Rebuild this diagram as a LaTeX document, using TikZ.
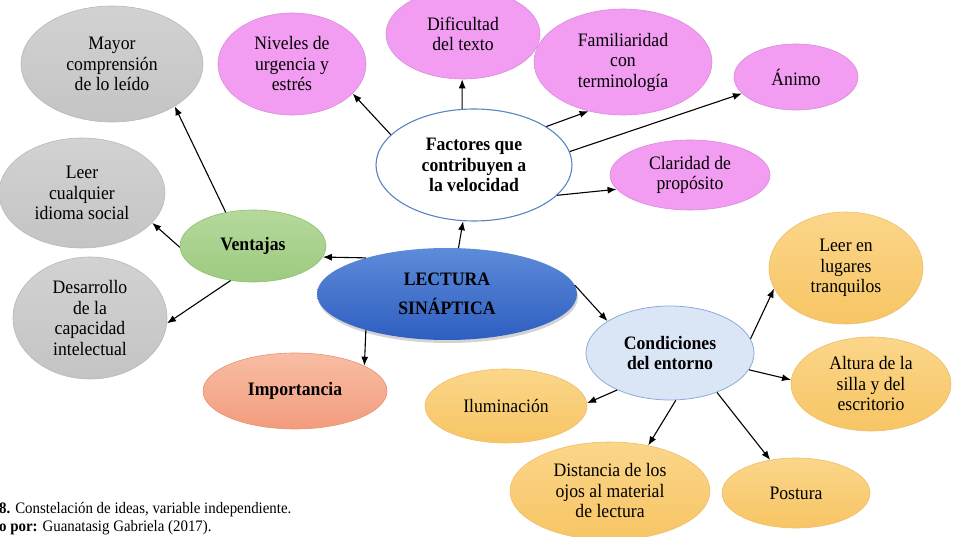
\documentclass[tikz,border=0pt]{standalone}
\usepackage{fontspec}
\setmainfont{Liberation Serif}[FakeStretch=0.93]
\usetikzlibrary{shapes.geometric,arrows.meta,shadows}
\definecolor{grayt}{HTML}{D2D2D2}
\definecolor{grayb}{HTML}{C4C4C4}
\definecolor{grayd}{HTML}{B8B8B8}
\definecolor{pinkf}{HTML}{F29CF2}
\definecolor{pinkd}{HTML}{D98CD9}
\definecolor{orat}{HTML}{FBD68A}
\definecolor{orab}{HTML}{F7C564}
\definecolor{orad}{HTML}{EDBE6A}
\definecolor{greent}{HTML}{B5D99C}
\definecolor{greenb}{HTML}{9DCB80}
\definecolor{greend}{HTML}{8FBF72}
\definecolor{lblue}{HTML}{DAE5F5}
\definecolor{lblued}{HTML}{8FAADC}
\definecolor{facd}{HTML}{5A85C4}
\definecolor{bluet}{HTML}{5E8BDA}
\definecolor{blueb}{HTML}{2E5EC0}
\definecolor{salt}{HTML}{F8BDA4}
\definecolor{salb}{HTML}{F29C7C}
\definecolor{sald}{HTML}{E89272}
\newcommand\bubfont{\fontsize{19}{20.5}\selectfont}
\newcommand\capfont{\fontsize{16}{18}\selectfont}
\tikzset{
  bub/.style={ellipse, inner sep=0pt, align=center, font=\bubfont, text=black},
  graybub/.style={bub, top color=grayt, bottom color=grayb, draw=grayd, line width=0.6pt},
  pinkbub/.style={bub, fill=pinkf, draw=pinkd, line width=0.6pt},
  orabub/.style={bub, top color=orat, bottom color=orab, draw=orad, line width=0.6pt},
  greenbub/.style={bub, top color=greent, bottom color=greenb, draw=greend, line width=0.6pt, font=\bubfont\bfseries},
  condbub/.style={bub, fill=lblue, draw=lblued, line width=0.8pt, font=\bubfont\bfseries},
  facbub/.style={bub, fill=white, draw=facd, line width=1.1pt, font=\bubfont\bfseries},
  lecbub/.style={bub, top color=bluet, bottom color=blueb, draw=none, font=\bubfont\bfseries,
     drop shadow={opacity=0.35, shadow xshift=1pt, shadow yshift=-3pt}},
  impbub/.style={bub, top color=salt, bottom color=salb, draw=sald, line width=0.6pt, font=\bubfont\bfseries},
  arr/.style={-{Latex[length=9pt,width=7pt]}, line width=1.1pt, black}
}
\begin{document}
\begin{tikzpicture}[x=1pt,y=-1pt]
\useasboundingbox (0,0) rectangle (954,537);
\clip (0,0) rectangle (954,537);

% Ventajas branch
\node[graybub, minimum width=182pt, minimum height=116pt] (may) at (112,64) {Mayor\\comprensión\\de lo leído};
\node[graybub, minimum width=166pt, minimum height=110pt] (lee) at (82,193) {Leer\\cualquier\\idioma social};
\node[graybub, minimum width=154pt, minimum height=122pt] (des) at (90,318) {Desarrollo\\de la\\capacidad\\intelectual};
\node[greenbub, minimum width=146pt, minimum height=72pt] (ven) at (253,246) {Ventajas};

% centre
\node[lecbub, minimum width=260pt, minimum height=92pt] (lec) at (447,294) {LECTURA\\[9pt]SINÁPTICA};
\node[impbub, minimum width=184pt, minimum height=76pt] (imp) at (295,391) {Importancia};

% Factores branch
\node[facbub, minimum width=196pt, minimum height=112pt] (fac) at (474,165) {Factores que\\contribuyen a\\la velocidad};
\node[pinkbub, minimum width=148pt, minimum height=102pt] (niv) at (292,64) {Niveles de\\urgencia y\\estrés};
\node[pinkbub, minimum width=154pt, minimum height=90pt] (dif) at (463,34) {Dificultad\\del texto};
\node[pinkbub, minimum width=178pt, minimum height=106pt] (fam) at (623,62) {Familiaridad\\con\\terminología};
\node[pinkbub, minimum width=124pt, minimum height=66pt] (ani) at (796,77) {Ánimo};
\node[pinkbub, minimum width=160pt, minimum height=70pt] (cla) at (690,175) {Claridad de\\propósito};

% Condiciones branch
\node[condbub, minimum width=168pt, minimum height=94pt] (con) at (670,353) {Condiciones\\del entorno};
\node[orabub, minimum width=154pt, minimum height=112pt] (lug) at (846,268) {Leer en\\lugares\\tranquilos};
\node[orabub, minimum width=160pt, minimum height=94pt] (alt) at (871,384) {Altura de la\\silla y del\\escritorio};
\node[orabub, minimum width=162pt, minimum height=74pt] (ilu) at (506,406) {Iluminación};
\node[orabub, minimum width=200pt, minimum height=98pt] (dis) at (610,491) {Distancia de los\\ojos al material\\de lectura};
\node[orabub, minimum width=148pt, minimum height=70pt] (pos) at (796,493) {Postura};

% connectors
\draw[arr] (lec.156) -- (ven.-9);
\draw[arr] (lec.76) -- (fac.259);
\draw[arr] (lec.4) -- (con.153);
\draw[arr] (lec.204) -- (imp.20);

\draw[arr] (ven.129) -- (may.-34);
\draw[arr] (ven.181) -- (lee.-23);
\draw[arr] (ven.237) -- (des.-4);

\draw[arr] (fac.160) -- (niv.-26);
\draw[arr] (fac.102) -- (dif.-91);
\draw[arr] (fac.28) -- (fam.235);
\draw[arr] (fac.8) -- (ani.197);
\draw[arr] (fac.-20) -- (cla.191);

\draw[arr] (con.10) -- (lug.196);
\draw[arr] (con.-12) -- (alt.177);
\draw[arr] (con.215) -- (ilu.2);
\draw[arr] (con.-83) -- (dis.50);
\draw[arr] (con.-40) -- (pos.128);

% caption
\node[anchor=base west, inner sep=0pt, font=\capfont] (cap1) at (-1,513) {\textbf{8.} Constelación de ideas, variable independiente.};
\node[anchor=base west, inner sep=0pt, font=\capfont] (cap2) at (-1,531) {\textbf{o por:} Guanatasig Gabriela (2017).};
\end{tikzpicture}
\end{document}
